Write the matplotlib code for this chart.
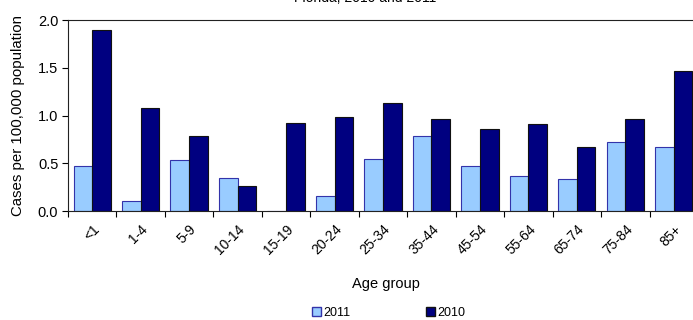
import matplotlib
matplotlib.use("Agg")
import matplotlib.pyplot as plt
import numpy as np
from matplotlib.patches import Patch

plt.rcParams['font.family'] = ['Liberation Sans', 'DejaVu Sans']

age_groups = ["<1", "1-4", "5-9", "10-14", "15-19", "20-24", "25-34",
              "35-44", "45-54", "55-64", "65-74", "75-84", "85+"]
rate_2011 = [0.47, 0.11, 0.54, 0.35, 0.00, 0.16, 0.55, 0.79, 0.47, 0.37, 0.34, 0.72, 0.67]
rate_2010 = [1.90, 1.08, 0.79, 0.26, 0.92, 0.99, 1.13, 0.97, 0.86, 0.91, 0.67, 0.96, 1.47]
yticks = [0.0, 0.5, 1.0, 1.5, 2.0]

fig = plt.figure(figsize=(6.93, 3.2), dpi=100)
ax = fig.add_axes([0.0981, 0.3406, 0.9091, 0.596])

x = np.arange(len(age_groups))
w = 0.385
ax.bar(x - w / 2, rate_2011, width=w, color="#99CCFF", edgecolor="#3333AA", linewidth=0.8)
ax.bar(x + w / 2, rate_2010, width=w, color="#000080", edgecolor="#111111", linewidth=0.8)

ax.set_xlim(-0.5, len(age_groups) - 0.5)
ax.set_ylim(0, 2.0)
ax.set_yticks(yticks)
ax.set_yticklabels([f"{v:.1f}" for v in yticks], fontsize=10.5)
ax.tick_params(axis="y", length=4, width=0.8, pad=3)

ax.set_xticks(x)
ax.set_xticklabels(age_groups, rotation=45, ha="right", rotation_mode="anchor", fontsize=10)
ax.tick_params(axis="x", which="major", length=0, pad=8)
ax.set_xticks(np.arange(len(age_groups)) - 0.5, minor=True)
ax.tick_params(axis="x", which="minor", length=4, width=0.8)

for s in ax.spines.values():
    s.set_linewidth(0.8)
    s.set_color("#222222")

ax.set_ylabel("Cases per 100,000 population", fontsize=10.8, labelpad=9)
fig.text(0.557, 0.112, "Age group", ha="center", va="center", fontsize=10.5)
fig.text(0.527, 0.985, "Florida, 2010 and 2011", ha="center", va="bottom", fontsize=10)

handles = [Patch(facecolor="#99CCFF", edgecolor="#3333AA", label="2011"),
           Patch(facecolor="#000080", edgecolor="#111111", label="2010")]
fig.legend(handles=handles, loc="center", bbox_to_anchor=(0.561, 0.022), ncol=2,
           frameon=False, fontsize=9, handlelength=0.7, handleheight=0.7,
           handletextpad=0.2, columnspacing=6.0)

fig.savefig("out.png", dpi=100)
